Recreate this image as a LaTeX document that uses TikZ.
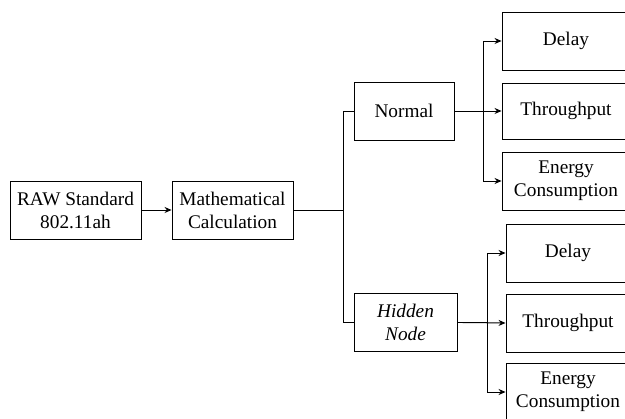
\documentclass[tikz,border=0pt]{standalone}
\usepackage{fontspec}
\setmainfont{Liberation Serif}
\usetikzlibrary{arrows.meta}

\tikzset{
  box/.style={draw, line width=0.9pt, align=center, inner sep=2pt,
    minimum height=58pt, font=\fontsize{19.3}{23}\selectfont},
  link/.style={line width=0.9pt},
  arr/.style={line width=0.9pt, -{Stealth[length=7pt,width=6pt]}}
}

\begin{document}
\begin{tikzpicture}[x=1pt, y=-1pt]
  \useasboundingbox (0,0) rectangle (625,419);
  % left part
  \node[box, minimum width=131pt] (raw) at (75.5,210) {RAW Standard\\802.11ah};
  \node[box, minimum width=121pt] (math) at (232.5,210) {Mathematical\\Calculation};
  \node[box, minimum width=100pt] (normal) at (404,111) {Normal};
  \node[box, minimum width=103pt] (hidden) at (405.5,322.5) {\itshape Hidden\\\itshape Node};
  % results, normal case
  \node[box, minimum width=128pt] (delayN) at (566,41) {Delay};
  \node[box, minimum width=128pt, minimum height=56pt] (thrN) at (566,111) {Throughput};
  \node[box, minimum width=128pt] (energyN) at (566,181) {Energy\\Consumption};
  % results, hidden node case
  \node[box, minimum width=124pt] (delayH) at (568,253) {Delay};
  \node[box, minimum width=124pt] (thrH) at (568,323) {Throughput};
  \node[box, minimum width=124pt] (energyH) at (568,392) {Energy\\Consumption};
  % connectors
  \draw[arr] (raw.east) -- (math.west);
  \draw[link] (math.east) -- ++(50,0) coordinate (split);
  \draw[link] (normal.west) -| (split) |- (hidden.west);
  \draw[arr] (normal.east) -- (thrN.west);
  \draw[arr] (normal.east) -- ++(29,0) coordinate (fanN) |- (delayN.west);
  \draw[arr] (fanN) |- (energyN.west);
  \draw[arr] (hidden.east) -- (thrH.west);
  \draw[arr] (hidden.east) -- ++(30,0) coordinate (fanH) |- (delayH.west);
  \draw[arr] (fanH) |- (energyH.west);
\end{tikzpicture}
\end{document}
